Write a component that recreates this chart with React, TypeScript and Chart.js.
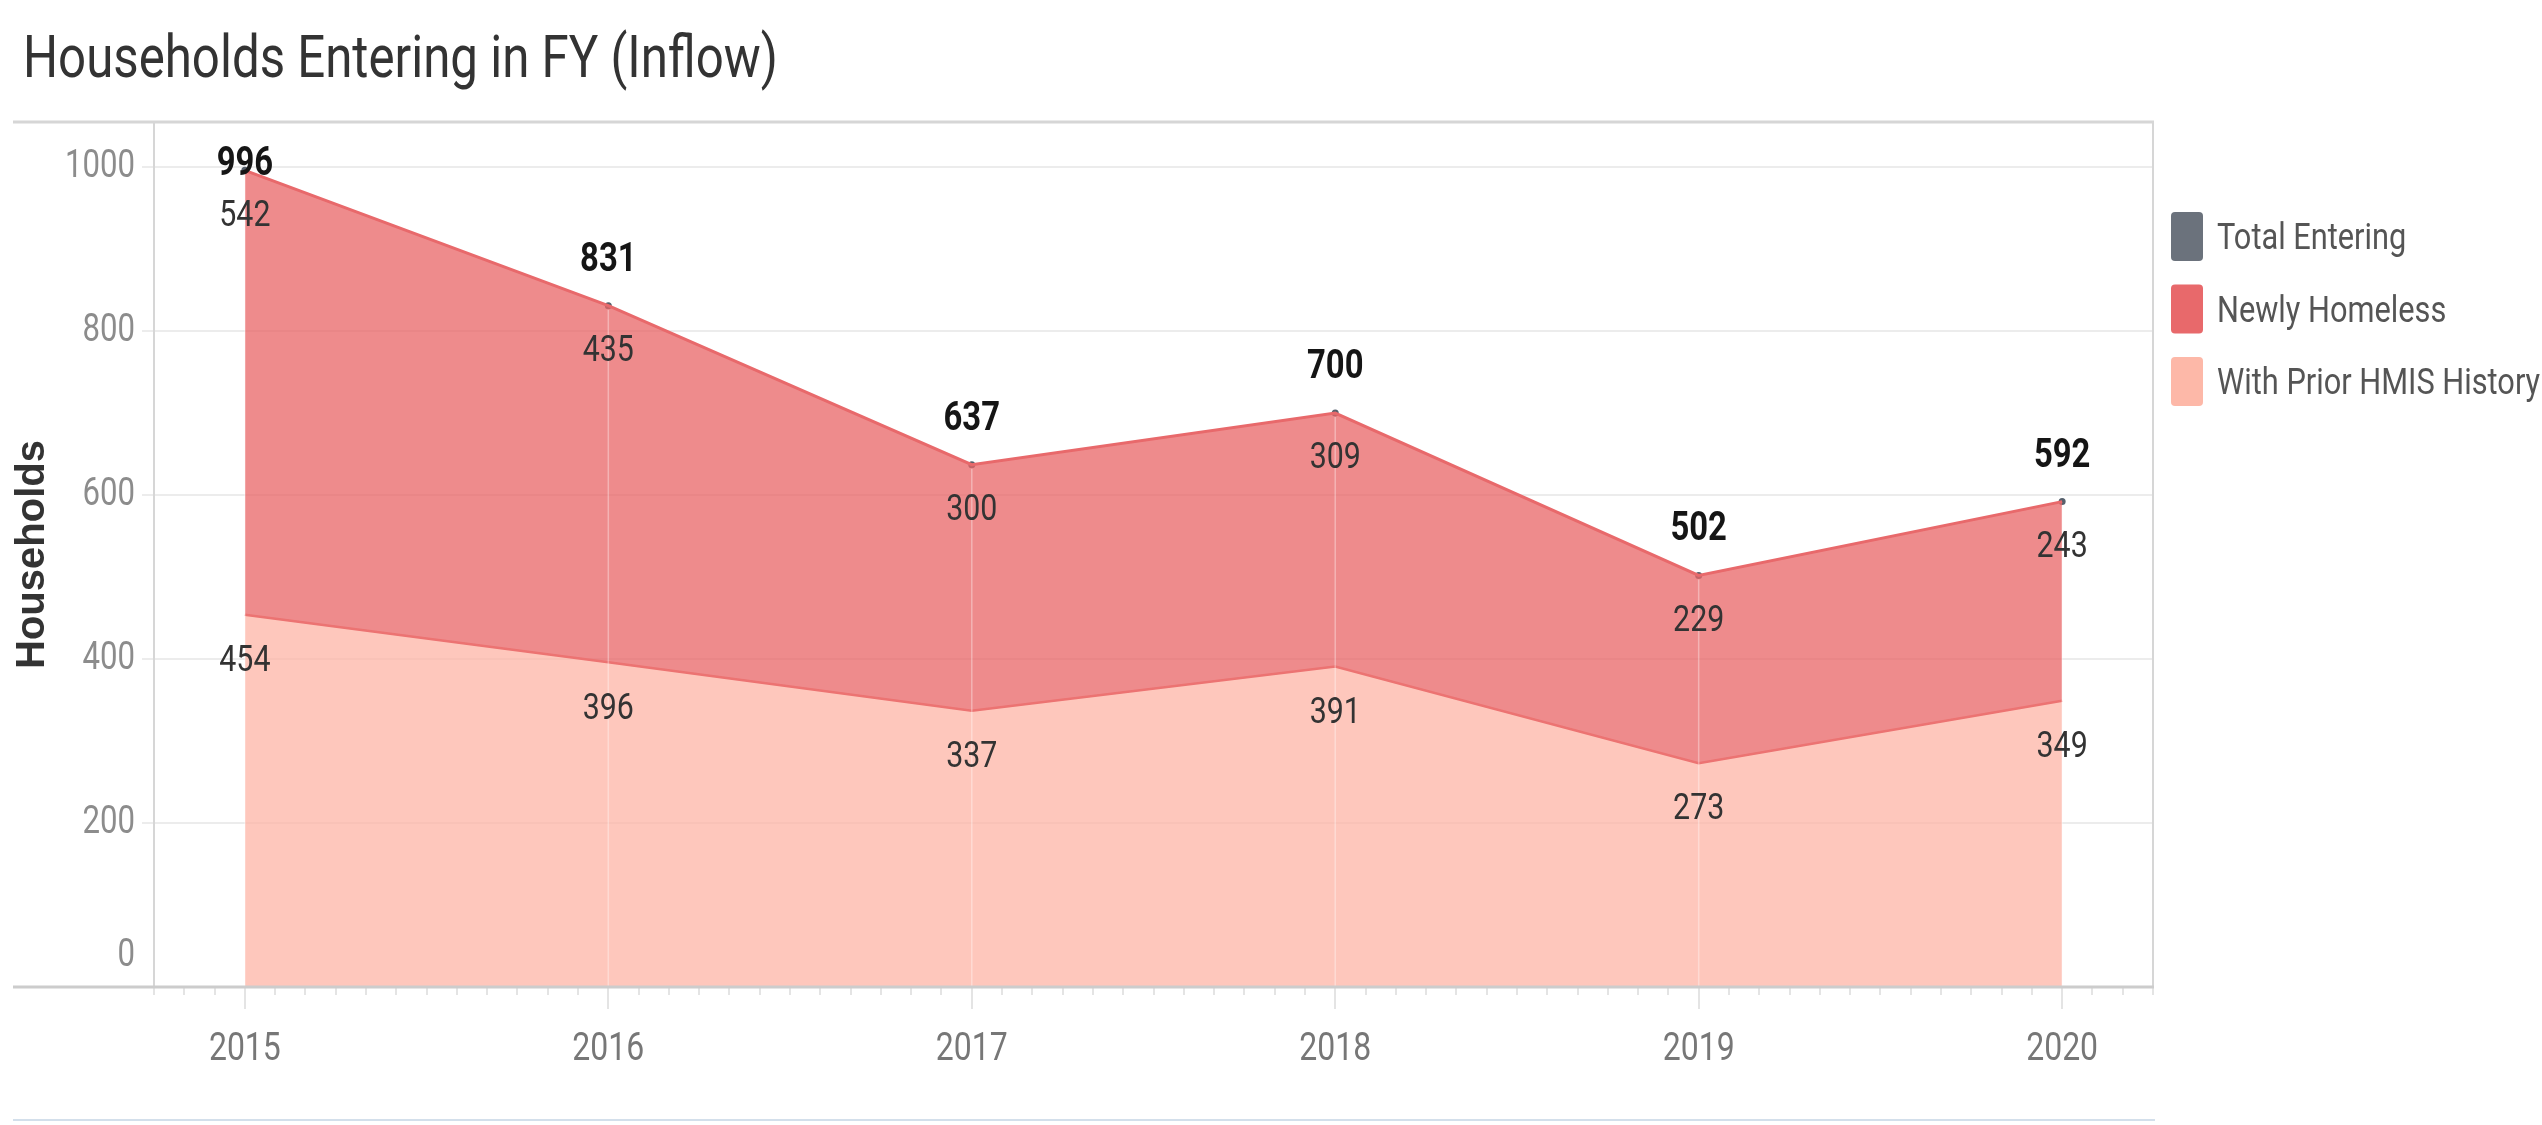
import React, { useEffect, useRef } from 'react';
import { Chart, registerables } from 'chart.js';

Chart.register(...registerables);

const TITLE = 'Households Entering in FY (Inflow)';
const Y_TITLE = 'Households';
const YEARS = [2015, 2016, 2017, 2018, 2019, 2020];
const TOTAL_ENTERING = [996, 831, 637, 700, 502, 592];
const NEWLY_HOMELESS = [542, 435, 300, 309, 229, 243];
const PRIOR_HMIS = [454, 396, 337, 391, 273, 349];
const Y_TICKS = [0, 200, 400, 600, 800, 1000];
const LEGEND_LABELS = ['Total Entering', 'Newly Homeless', 'With Prior HMIS History'];
const LEGEND_COLORS = ['#6b727c', '#e8696b', '#fdb8a8'];

// Tableau-like condensed text: Roboto, horizontally condensed when drawn
const NARROW = 'Roboto, "DejaVu Sans Condensed", sans-serif';
const CONDENSE = 0.82;
const WIDE = '"Liberation Sans", Arial, sans-serif';

const decor = {
  id: 'decor',
  afterDatasetsDraw(chart: any) {
    const { ctx, chartArea: a, scales } = chart;
    const x = scales.x;
    const y = scales.y;
    ctx.save();
    // faint vertical lines at each year inside the areas
    ctx.strokeStyle = 'rgba(255,255,255,0.35)';
    ctx.lineWidth = 1.5;
    YEARS.forEach((yr, i) => {
      const px = x.getPixelForValue(yr);
      ctx.beginPath();
      ctx.moveTo(px, y.getPixelForValue(TOTAL_ENTERING[i]) + 4);
      ctx.lineTo(px, a.bottom);
      ctx.stroke();
    });
    // mark labels
    ctx.textAlign = 'center';
    ctx.textBaseline = 'middle';
    YEARS.forEach((yr, i) => {
      const px = x.getPixelForValue(yr);
      const yTot = y.getPixelForValue(TOTAL_ENTERING[i]);
      const yPrior = y.getPixelForValue(PRIOR_HMIS[i]);
      const cyTot = Math.max(yTot - 45, a.top + 43);
      ctx.fillStyle = '#151515';
      ctx.font = `bold 40px ${NARROW}`;
      ctx.fillText(String(TOTAL_ENTERING[i]), px, cyTot);
      ctx.fillStyle = '#333333';
      ctx.font = `37px ${NARROW}`;
      ctx.fillText(String(NEWLY_HOMELESS[i]), px, Math.max(yTot + 46, cyTot + 47));
      ctx.fillText(String(PRIOR_HMIS[i]), px, yPrior + 47);
    });
    ctx.restore();
  },
  afterDraw(chart: any) {
    const { ctx, chartArea: a, scales } = chart;
    const x = scales.x;
    const frameLeft = 13;
    ctx.save();
    // title
    ctx.fillStyle = '#333333';
    ctx.font = `60px ${NARROW}`;
    ctx.textAlign = 'left';
    ctx.textBaseline = 'alphabetic';
    ctx.fillText(TITLE, 23, 77);
    // frame lines
    ctx.strokeStyle = '#d6d6d6';
    ctx.lineWidth = 3;
    ctx.beginPath();
    ctx.moveTo(frameLeft, a.top);
    ctx.lineTo(a.right + 1, a.top);
    ctx.stroke();
    ctx.lineWidth = 2;
    ctx.beginPath();
    ctx.moveTo(a.left, a.top);
    ctx.lineTo(a.left, a.bottom);
    ctx.moveTo(a.right, a.top);
    ctx.lineTo(a.right, a.bottom);
    ctx.stroke();
    // month tick marks
    ctx.strokeStyle = '#e4e4e4';
    ctx.lineWidth = 2;
    for (let m = Math.ceil(x.min * 12 - 1e-6); m <= Math.floor(x.max * 12 + 1e-6); m++) {
      const px = Math.round(x.getPixelForValue(m / 12));
      const len = m % 12 === 0 ? 22 : 8;
      ctx.beginPath();
      ctx.moveTo(px, a.bottom + 1);
      ctx.lineTo(px, a.bottom + len);
      ctx.stroke();
    }
    // bottom axis line
    ctx.strokeStyle = '#cccccc';
    ctx.lineWidth = 3;
    ctx.beginPath();
    ctx.moveTo(frameLeft, a.bottom);
    ctx.lineTo(a.right + 1, a.bottom);
    ctx.stroke();
    // bottom light separator
    ctx.strokeStyle = '#d3dfeb';
    ctx.lineWidth = 2;
    ctx.beginPath();
    ctx.moveTo(frameLeft, chart.height - 5);
    ctx.lineTo(a.right + 2, chart.height - 5);
    ctx.stroke();
    // legend
    ctx.textAlign = 'left';
    ctx.textBaseline = 'middle';
    ctx.font = `37.5px ${NARROW}`;
    LEGEND_LABELS.forEach((lab, i) => {
      const top = 212 + i * 72.5;
      ctx.fillStyle = LEGEND_COLORS[i];
      ctx.beginPath();
      ctx.roundRect(a.right + 18, top, 32, 49, 4);
      ctx.fill();
      ctx.fillStyle = '#555555';
      ctx.fillText(lab, a.right + 64, top + 28);
    });
    ctx.restore();
  },
};

export default function App() {
  const ref = useRef<HTMLCanvasElement | null>(null);
  useEffect(() => {
    const canvas = ref.current;
    if (!canvas) return;
    const c2d: any = canvas.getContext('2d');
    const origFill = c2d.fillText;
    c2d.fillText = function (text: string, px: number, py: number, maxWidth?: number) {
      if (String(this.font).includes('Roboto')) {
        const w = this.measureText(text).width * CONDENSE;
        return origFill.call(this, text, px, py, maxWidth === undefined ? w : Math.min(maxWidth, w));
      }
      return maxWidth === undefined ? origFill.call(this, text, px, py) : origFill.call(this, text, px, py, maxWidth);
    };
    const chart = new Chart(canvas, {
      type: 'line',
      data: {
        datasets: [
          {
            label: 'With Prior HMIS History',
            data: YEARS.map((yr, i) => ({ x: yr, y: PRIOR_HMIS[i] })),
            stack: 'parts',
            fill: 'origin',
            backgroundColor: 'rgba(253,180,165,0.74)',
            borderColor: '#ec7372',
            borderWidth: 2.5,
            pointRadius: 0,
            tension: 0,
          },
          {
            label: 'Newly Homeless',
            data: YEARS.map((yr, i) => ({ x: yr, y: NEWLY_HOMELESS[i] })),
            stack: 'parts',
            fill: '-1',
            backgroundColor: 'rgba(232,100,102,0.75)',
            borderColor: '#e8696b',
            borderWidth: 3,
            pointRadius: 0,
            tension: 0,
          },
          {
            label: 'Total Entering',
            data: YEARS.map((yr, i) => ({ x: yr, y: TOTAL_ENTERING[i] })),
            stack: 'total',
            showLine: false,
            fill: false,
            pointRadius: 3.5,
            pointBorderWidth: 0,
            pointBackgroundColor: '#56606c',
            backgroundColor: '#56606c',
            borderColor: '#56606c',
          },
        ],
      },
      options: {
        animation: false,
        responsive: true,
        maintainAspectRatio: false,
        events: [],
        layout: { padding: { left: 23, right: 389, top: 122, bottom: 0 } },
        plugins: {
          legend: { display: false },
          tooltip: { enabled: false },
          title: { display: false },
        },
        scales: {
          x: {
            type: 'linear',
            min: 2014.75,
            max: 2020.25,
            afterBuildTicks: (s: any) => {
              s.ticks = YEARS.map((v) => ({ value: v }));
            },
            afterFit: (s: any) => {
              s.height = 138;
            },
            grid: { display: false, drawTicks: false },
            border: { display: false },
            ticks: {
              padding: 40,
              color: '#777777',
              autoSkip: false,
              maxRotation: 0,
              font: { family: NARROW, size: 39 },
              callback: (v: any) => String(v),
            },
          },
          y: {
            stacked: true,
            min: 0,
            max: 1055,
            afterBuildTicks: (s: any) => {
              s.ticks = Y_TICKS.map((v) => ({ value: v }));
            },
            afterFit: (s: any) => {
              s.width = 131;
            },
            grid: { color: '#ececec', lineWidth: 2, tickLength: 12, drawTicks: true },
            border: { display: false },
            ticks: {
              padding: 7,
              color: '#8c8c8c',
              font: { family: NARROW, size: 38, lineHeight: 1.6 },
              callback: (v: any) => (v === 0 ? ['0', ''] : String(v)),
            },
            title: {
              display: true,
              text: Y_TITLE,
              color: '#333333',
              font: { family: WIDE, size: 40, weight: 'bold', lineHeight: 0.5 },
              padding: 0,
            },
          },
        },
      },
      plugins: [decor],
    });
    return () => {
      chart.destroy();
      c2d.fillText = origFill;
    };
  }, []);
  return (
    <div style={{ position: 'fixed', left: 0, top: 0, width: 2542, height: 1125, background: '#fff' }}>
      <canvas ref={ref} />
    </div>
  );
}
